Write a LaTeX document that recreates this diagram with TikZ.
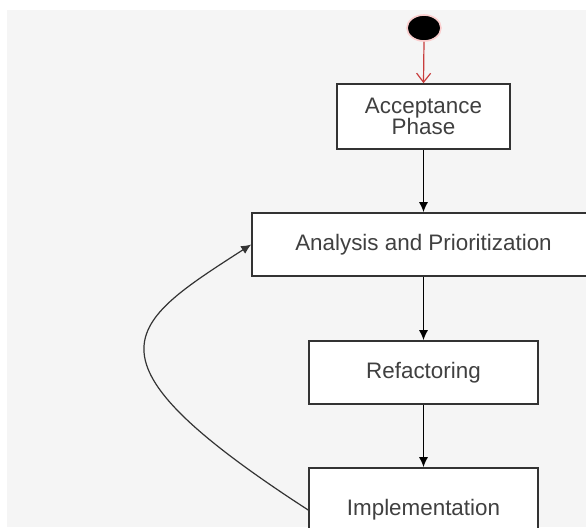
\documentclass[tikz,border=0pt]{standalone}
\usepackage{fontspec}
\setmainfont{Liberation Sans}
\usepackage{tikz}
\usetikzlibrary{positioning}
\usetikzlibrary{arrows.meta}
\usetikzlibrary{shapes.geometric}
\definecolor{bg}{RGB}{245, 245, 245}
\definecolor{ln}{RGB}{51, 51, 51}
\definecolor{tx}{RGB}{64, 64, 64}
\definecolor{r1}{RGB}{200, 60, 60}
\definecolor{halo}{RGB}{250, 205, 205}

\begin{document}
\begin{tikzpicture}[x=0.5pt, y=-0.5pt]
    \tikzstyle{phase}=[rectangle, draw=ln, line width=0.8pt, fill=white,
    text=tx, font=\fontsize{11.2}{10.5}\selectfont, align=center, inner sep=0pt]
    \tikzstyle{flow}=[line width=0.7pt, arrows={-Latex[length=5pt, width=4.5pt]}, color=black]

    % Canvas
    \useasboundingbox (0, 0) rectangle (586, 527);
    \fill[white] (0, 0) rectangle (586, 527);
    \fill[bg] (7, 10) rectangle (586, 527);

    % Start point
    \node (start) [ellipse, fill=black, draw=halo, line width=0.8pt,
      minimum width=17pt, minimum height=13pt, inner sep=0pt] at (424, 28) {};

    % Phases
    \node (accept) [phase, minimum width=86.5pt, minimum height=32.5pt]
      at (423.5, 116.5) {Acceptance\\Phase};
    \node (analysis) [phase, minimum width=171.5pt, minimum height=31.5pt]
      at (423.5, 244.5) {Analysis and Prioritization};
    \node (refactor) [phase, minimum width=114.5pt, minimum height=31.5pt]
      at (423.5, 372.5) {Refactoring};
    \node (impl) [phase, minimum width=114.5pt, minimum height=42pt]
      at (423.5, 510) {Implementation};

    % Start arrow
    \draw [line width=0.6pt, arrows={-Straight Barb[length=4.5pt, width=7pt]}, color=r1]
      (start.south) -- (accept.north);

    % Flow down
    \draw [flow] (accept.south) -- (analysis.north);
    \draw [flow] (analysis.south) -- (refactor.north);
    \draw [flow] (refactor.south) -- (impl.north);

    % Loop back
    \draw [flow, line width=0.6pt, color=ln] (impl.west) .. controls (72, 357) and (128, 324) .. (analysis.west);

  \end{tikzpicture}
\end{document}
